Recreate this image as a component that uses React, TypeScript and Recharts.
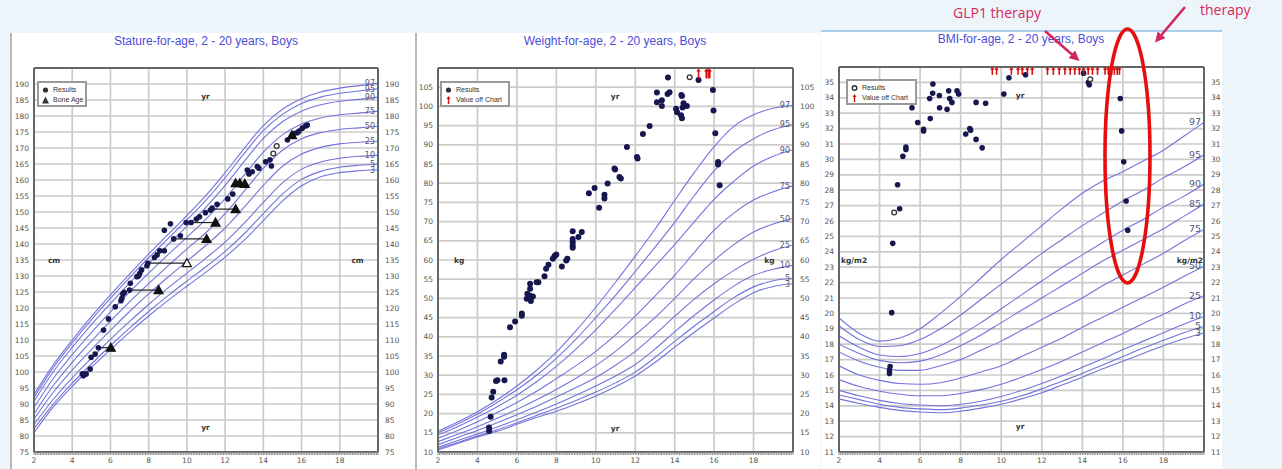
import React from "react";
import {
  CartesianGrid,
  ComposedChart,
  Line,
  ReferenceDot,
  ReferenceLine,
  Scatter,
  XAxis,
  YAxis,
} from "recharts";

type Pt = [number, number];

const FONT = "'DejaVu Sans', Verdana, sans-serif";
const TITLE_FONT = "'Liberation Sans', Arial, sans-serif";
const CURVE = "#7373dd";
const DOT = "#17174f";
const OFF = "#d40f0f";
const AXIS = "#666";

const AGES = [2, 3, 4, 5, 6, 7, 8, 9, 10, 11, 12, 13, 14, 15, 16, 17, 18, 19, 20];
const AGE_TICKS = [2, 4, 6, 8, 10, 12, 14, 16, 18];
const MONTH_TICKS = Array.from({ length: 18 * 12 + 1 }, (_, i) => 2 + i / 12);

const STATURE_TICKS = [75, 80, 85, 90, 95, 100, 105, 110, 115, 120, 125, 130, 135, 140, 145, 150, 155, 160, 165, 170, 175, 180, 185, 190];
const WEIGHT_TICKS = [10, 15, 20, 25, 30, 35, 40, 45, 50, 55, 60, 65, 70, 75, 80, 85, 90, 95, 100, 105];
const BMI_TICKS = [11, 12, 13, 14, 15, 16, 17, 18, 19, 20, 21, 22, 23, 24, 25, 26, 27, 28, 29, 30, 31, 32, 33, 34, 35];

// stature-for-age percentiles (cm), ages 2..20
const statureP3 = [81.0, 89.0, 95.5, 101.4, 107.0, 112.4, 117.5, 122.3, 126.8, 131.2, 135.9, 141.2, 147.3, 153.4, 158.2, 161.0, 162.3, 162.9, 163.2];
const statureP5 = [82.3, 89.9, 96.5, 102.5, 108.2, 113.7, 118.9, 123.8, 128.4, 132.9, 137.7, 143.2, 149.5, 155.6, 160.2, 162.7, 164.0, 164.6, 164.9];
const statureP10 = [83.6, 91.4, 98.2, 104.3, 110.2, 115.8, 121.1, 126.2, 130.9, 135.6, 140.6, 146.5, 153.0, 159.1, 163.4, 165.6, 166.8, 167.4, 167.7];
const statureP25 = [85.3, 93.6, 100.6, 107.0, 113.0, 118.9, 124.4, 129.6, 134.6, 139.6, 145.0, 151.5, 158.3, 164.3, 168.1, 170.2, 171.3, 171.8, 172.1];
const statureP50 = [86.9, 95.7, 103.0, 109.6, 115.9, 121.9, 127.6, 133.1, 138.4, 143.6, 149.5, 156.5, 163.6, 169.3, 172.9, 174.8, 175.8, 176.3, 176.8];
const statureP75 = [88.9, 97.9, 105.4, 112.3, 118.8, 125.0, 130.9, 136.6, 142.1, 147.8, 154.2, 161.5, 168.7, 174.1, 177.5, 179.4, 180.4, 180.9, 181.5];
const statureP90 = [90.8, 100.0, 107.7, 114.8, 121.4, 127.8, 133.9, 139.7, 145.5, 151.5, 158.3, 165.8, 173.0, 178.2, 181.5, 183.5, 184.6, 185.2, 185.9];
const statureP95 = [92.0, 101.3, 109.1, 116.3, 123.0, 129.5, 135.7, 141.6, 147.5, 153.7, 160.7, 168.3, 175.4, 180.5, 183.9, 185.9, 187.1, 187.8, 188.5];
const statureP97 = [93.0, 102.2, 110.0, 117.3, 124.1, 130.6, 136.9, 142.9, 148.9, 155.2, 162.3, 169.9, 177.0, 182.1, 185.4, 187.5, 188.7, 189.5, 190.2];

// weight-for-age percentiles (kg)
const weightP3 = [10.5, 12.2, 13.9, 15.4, 17.2, 19.0, 20.6, 22.5, 24.6, 27.0, 29.8, 33.3, 37.3, 41.2, 44.9, 48.5, 51.5, 53.1, 53.8];
const weightP5 = [10.8, 12.5, 14.2, 15.8, 17.6, 19.5, 21.4, 23.4, 25.6, 28.0, 30.8, 34.6, 38.8, 42.8, 46.6, 50.2, 53.0, 54.6, 55.3];
const weightP10 = [11.2, 13.0, 14.7, 16.5, 18.4, 20.4, 22.5, 24.8, 27.2, 29.8, 32.8, 36.8, 41.3, 45.6, 49.6, 53.2, 56.0, 57.6, 58.6];
const weightP25 = [11.9, 13.8, 15.6, 17.6, 19.7, 21.9, 24.3, 26.8, 29.4, 32.6, 36.2, 40.6, 45.3, 49.8, 53.8, 57.3, 60.2, 62.4, 63.9];
const weightP50 = [12.7, 14.6, 16.6, 18.8, 21.1, 23.6, 26.3, 29.2, 32.5, 36.2, 40.5, 45.0, 50.0, 55.2, 59.9, 64.0, 67.3, 69.4, 70.8];
const weightP75 = [13.6, 15.6, 17.9, 20.3, 22.9, 25.8, 29.1, 32.5, 36.2, 40.5, 45.4, 50.6, 56.0, 62.0, 67.8, 72.2, 75.6, 77.8, 79.3];
const weightP90 = [14.5, 16.6, 19.1, 21.8, 24.8, 28.3, 32.3, 36.8, 41.8, 47.2, 52.8, 58.4, 64.0, 70.0, 75.8, 80.5, 84.5, 87.0, 88.7];
const weightP95 = [15.0, 17.3, 19.9, 22.9, 26.2, 30.0, 34.4, 39.4, 45.0, 50.8, 57.0, 63.3, 69.8, 76.8, 83.2, 88.2, 91.6, 93.9, 95.3];
const weightP97 = [15.4, 17.8, 20.5, 23.6, 27.2, 31.3, 36.0, 41.6, 47.7, 54.2, 61.0, 68.0, 75.5, 82.8, 89.5, 94.8, 97.8, 99.5, 100.3];

// BMI-for-age percentiles (kg/m2)
const bmiP3 = [14.45, 14.15, 13.9, 13.7, 13.6, 13.55, 13.65, 13.85, 14.1, 14.45, 14.85, 15.35, 15.85, 16.4, 16.9, 17.4, 17.9, 18.35, 18.75];
const bmiP5 = [14.7, 14.4, 14.1, 13.9, 13.8, 13.75, 13.85, 14.05, 14.3, 14.65, 15.1, 15.6, 16.1, 16.65, 17.2, 17.75, 18.25, 18.75, 19.15];
const bmiP10 = [15.0, 14.65, 14.35, 14.15, 14.05, 14.0, 14.1, 14.3, 14.6, 15.0, 15.45, 15.95, 16.5, 17.05, 17.65, 18.2, 18.75, 19.3, 19.8];
const bmiP25 = [15.7, 15.25, 14.95, 14.75, 14.65, 14.65, 14.8, 15.05, 15.4, 15.85, 16.35, 16.9, 17.5, 18.1, 18.7, 19.35, 19.95, 20.6, 21.15];
const bmiP50 = [16.6, 16.0, 15.65, 15.45, 15.4, 15.5, 15.8, 16.2, 16.6, 17.2, 17.8, 18.4, 19.1, 19.75, 20.4, 21.05, 21.7, 22.4, 23.05];
const bmiP75 = [17.5, 16.9, 16.5, 16.3, 16.3, 16.6, 17.0, 17.6, 18.2, 18.9, 19.6, 20.3, 21.0, 21.8, 22.5, 23.2, 23.9, 24.7, 25.45];
const bmiP85 = [18.0, 17.4, 16.95, 16.8, 16.9, 17.3, 17.9, 18.6, 19.4, 20.2, 21.0, 21.8, 22.6, 23.4, 24.1, 24.8, 25.5, 26.3, 27.1];
const bmiP90 = [18.55, 17.8, 17.3, 17.2, 17.4, 17.9, 18.6, 19.4, 20.3, 21.2, 22.1, 23.0, 23.8, 24.6, 25.4, 26.1, 26.9, 27.6, 28.4];
const bmiP95 = [19.2, 18.3, 17.85, 17.9, 18.3, 19.0, 19.9, 20.9, 21.9, 22.9, 23.9, 24.8, 25.7, 26.5, 27.3, 28.0, 28.8, 29.5, 30.3];
const bmiP97 = [19.7, 18.7, 18.2, 18.4, 19.0, 20.0, 21.1, 22.3, 23.5, 24.6, 25.7, 26.8, 27.8, 28.6, 29.2, 29.9, 30.6, 31.5, 32.4];

const STATURE_CURVES: [string, number[]][] = [
  ["97", statureP97], ["95", statureP95], ["90", statureP90], ["75", statureP75], ["50", statureP50],
  ["25", statureP25], ["10", statureP10], ["5", statureP5], ["3", statureP3],
];
const WEIGHT_CURVES: [string, number[]][] = [
  ["97", weightP97], ["95", weightP95], ["90", weightP90], ["75", weightP75], ["50", weightP50],
  ["25", weightP25], ["10", weightP10], ["5", weightP5], ["3", weightP3],
];
const BMI_CURVES: [string, number[]][] = [
  ["97", bmiP97], ["95", bmiP95], ["90", bmiP90], ["85", bmiP85], ["75", bmiP75], ["50", bmiP50],
  ["25", bmiP25], ["10", bmiP10], ["5", bmiP5], ["3", bmiP3],
];

// measured results [age, value]
const statureResults: Pt[] = [
  [4.53, 99.4], [4.59, 98.8], [4.73, 99.4], [4.94, 100.9], [4.99, 104.6], [5.2, 105.6], [5.37, 107.6],
  [5.64, 113.1], [5.9, 116.6], [6.25, 120.4], [6.55, 122.3], [6.6, 123.0], [6.65, 124.4], [6.72, 124.9],
  [7.0, 125.6], [7.04, 127.7], [7.39, 129.8], [7.47, 130.0], [7.53, 130.8], [7.63, 131.9], [7.91, 133.2],
  [7.96, 134.0], [8.3, 135.8], [8.44, 136.6], [8.58, 137.9], [8.82, 137.9], [8.82, 144.3], [9.14, 146.3],
  [9.31, 141.6], [9.66, 142.6], [9.96, 146.7], [10.22, 146.7], [10.5, 147.8], [10.66, 148.5], [10.97, 149.8],
  [11.23, 150.6], [11.32, 151.2], [11.58, 152.4], [12.14, 154.1], [12.4, 155.6], [13.16, 163.1], [13.25, 161.9],
  [13.42, 162.6], [13.68, 164.2], [13.77, 163.7], [14.12, 165.7], [14.35, 166.3], [14.42, 164.4], [15.26, 172.5],
  [15.52, 174.1], [15.6, 174.5], [15.78, 174.8], [15.87, 175.3], [16.04, 176.2], [16.22, 176.9], [16.3, 177.2],
];
const statureOpen: Pt[] = [[14.52, 168.3], [14.7, 170.6]];
// bone age: [chronological age, bone age, height]
const boneAgeLinks: [number, number, number][] = [
  [5.37, 6.02, 107.6], [7.0, 8.52, 125.6], [7.96, 10.0, 134.0], [9.31, 11.03, 141.6],
  [10.22, 11.5, 146.7], [11.32, 12.55, 150.9], [12.55, 13.03, 159.0],
];
const boneAgeFilled: Pt[] = [
  [6.02, 107.6], [8.52, 125.6], [11.03, 141.6], [11.5, 146.7], [12.55, 150.9],
  [12.55, 159.0], [12.77, 159.0], [13.03, 158.8], [15.5, 174.0],
];
const boneAgeOpen: Pt[] = [[10.0, 134.0]];

const weightResults: Pt[] = [
  [4.59, 16.35], [4.59, 15.5], [4.67, 19.2], [4.72, 24.2], [4.8, 25.7], [4.94, 28.5], [5.01, 28.7], [5.37, 28.7],
  [5.18, 33.6], [5.35, 35.3], [5.35, 34.8], [5.65, 42.5], [5.91, 44.0], [6.25, 46.1], [6.25, 45.5], [6.5, 49.9],
  [6.53, 51.2], [6.67, 53.8], [6.67, 52.5], [6.67, 50.7], [6.71, 49.3], [6.81, 50.5], [7.0, 54.2], [7.09, 54.2],
  [7.4, 55.8], [7.48, 57.7], [7.6, 58.75], [7.82, 60.3], [7.9, 60.9], [7.94, 61.2], [8.0, 61.4], [8.28, 58.3],
  [8.5, 59.9], [8.56, 60.3], [8.83, 63.2], [8.83, 63.8], [8.83, 64.6], [8.83, 65.5], [8.83, 67.5], [9.12, 66.0],
  [9.29, 67.3], [9.65, 77.4], [9.94, 78.75], [10.17, 73.6], [10.44, 77.0], [10.44, 76.0], [10.6, 79.9],
  [10.95, 83.8], [10.98, 83.55], [11.2, 81.6], [11.27, 81.2], [11.58, 89.45], [12.09, 86.8], [12.12, 86.4],
  [12.39, 92.8], [12.73, 94.9], [13.1, 103.6], [13.1, 101.1], [13.35, 101.6], [13.35, 100.1], [13.64, 103.2],
  [13.66, 107.5], [13.74, 103.7], [14.07, 99.4], [14.12, 98.5], [14.32, 97.7], [14.37, 96.9], [14.34, 103.0],
  [14.37, 102.7], [14.4, 99.7], [14.45, 100.8], [14.62, 100.1], [15.21, 106.9], [15.94, 104.3], [15.97, 98.9],
  [16.06, 93.0], [16.2, 85.5], [16.2, 84.9], [16.28, 79.45],
];
const weightOpen: Pt[] = [[14.76, 107.6]];
const weightOffChart: Pt[] = [[15.21, 108.6], [15.6, 108.6], [15.7, 108.6], [15.78, 108.6]];

const bmiResults: Pt[] = [
  [4.49, 16.1], [4.49, 16.3], [4.52, 16.55], [4.6, 20.05], [4.65, 24.55], [4.99, 26.8], [4.89, 28.35],
  [5.15, 30.2], [5.3, 30.65], [5.3, 30.8], [5.6, 33.35], [5.88, 32.4], [6.17, 31.95], [6.17, 31.85],
  [6.5, 32.65], [6.47, 33.95], [6.62, 34.3], [6.63, 34.9], [6.95, 34.15], [6.96, 33.35], [7.33, 33.25],
  [7.41, 34.45], [7.46, 33.95], [7.57, 33.7], [7.82, 34.45], [7.9, 34.25], [8.25, 31.65], [8.45, 32.0],
  [8.49, 31.9], [8.76, 33.7], [8.76, 31.3], [9.06, 30.75], [9.23, 33.65], [10.13, 34.25], [10.38, 35.3],
  [11.2, 35.5], [14.06, 35.6], [14.3, 35.0], [14.34, 34.85], [15.87, 33.95], [15.94, 31.85], [16.04, 29.85],
  [16.16, 27.3], [16.24, 25.4],
];
const bmiOpen: Pt[] = [[4.72, 26.55], [14.39, 35.2]];
const bmiOffAges = [
  9.56, 9.77, 10.5, 10.83, 11.04, 11.29, 11.53, 12.28, 12.57, 12.86, 13.14, 13.4,
  13.63, 13.85, 14.06, 14.29, 14.5, 14.75, 15.12, 15.28, 15.45, 15.58, 15.72, 15.83,
];
const bmiOffChart: Pt[] = bmiOffAges.map((a) => [a, 35.75]);

const rows = (pts: Pt[]) => pts.map(([age, v]) => ({ age, v }));
const curveRows = (vals: number[]) => AGES.map((age, i) => ({ age, v: vals[i] }));

const ageLabel = (t: number) => {
  const r = Math.round(t);
  return Math.abs(t - r) < 1e-6 && r % 2 === 0 && r < 20 ? String(r) : "";
};

const dotShape = (r: number) => (p: any) => <circle cx={p.cx} cy={p.cy} r={r} fill={DOT} />;
const ringShape = (r: number) => (p: any) => (
  <circle cx={p.cx} cy={p.cy} r={r} fill="#fff" stroke="#333" strokeWidth={1.3} />
);
const triShape = (open: boolean) => (p: any) => (
  <path
    d={`M${p.cx},${p.cy - 4.5} L${p.cx + 4.5},${p.cy + 3.5} L${p.cx - 4.5},${p.cy + 3.5} Z`}
    fill={open ? "#fff" : "#111"}
    stroke="#111"
    strokeWidth={1.2}
  />
);
const arrowShape = (len: number) => (p: any) => (
  <g>
    <line x1={p.cx} y1={p.cy + len / 2} x2={p.cx} y2={p.cy - len / 2 + 2} stroke={OFF} strokeWidth={1.6} />
    <path d={`M${p.cx - 2.2},${p.cy - len / 2 + 3} L${p.cx},${p.cy - len / 2} L${p.cx + 2.2},${p.cy - len / 2 + 3} Z`} fill={OFF} />
  </g>
);
const textShape = (txt: string, anchor = "middle") => (p: any) => (
  <text x={p.cx} y={p.cy} dy={3} textAnchor={anchor} fontSize={7.5} fontWeight="bold" fill="#333" fontFamily={FONT}>
    {txt}
  </text>
);

function curveLines(curves: [string, number[]][], size: number) {
  return curves.map(([name, vals]) => (
    <Line
      key={"c" + name}
      xAxisId="b"
      yAxisId="l"
      data={curveRows(vals)}
      dataKey="v"
      type="monotone"
      stroke={CURVE}
      strokeWidth={1.1}
      dot={false}
      activeDot={false}
      isAnimationActive={false}
      label={(p: any) =>
        p.index === AGES.length - 1 ? (
          <text x={p.x - 3} y={p.y} dy={3} textAnchor="end" fontSize={size} fill="#55557a" fontFamily={FONT}>
            {name}
          </text>
        ) : (
          <g />
        )
      }
    />
  ));
}

function frame(yDomain: [number, number], yTicks: number[], leftW: number, rightW: number, topMargin: number) {
  const tick = { fontSize: 7.5, fill: "#555", fontFamily: FONT };
  return [
    <XAxis key="g" xAxisId="g" type="number" dataKey="age" domain={[2, 20]} ticks={AGE_TICKS} allowDataOverflow hide />,
    <XAxis
      key="b" xAxisId="b" type="number" dataKey="age" domain={[2, 20]} ticks={MONTH_TICKS} interval={0}
      tickFormatter={ageLabel} allowDataOverflow height={17} tick={tick} tickSize={3} tickMargin={3}
      axisLine={{ stroke: AXIS, strokeWidth: 2 }} tickLine={{ stroke: "#8a8a8a" }}
    />,
    <XAxis
      key="t" xAxisId="t" orientation="top" type="number" domain={[2, 20]} ticks={MONTH_TICKS} interval={0}
      tickFormatter={ageLabel} allowDataOverflow height={18} tick={tick} tickSize={3} tickMargin={topMargin}
      axisLine={{ stroke: AXIS, strokeWidth: 2 }} tickLine={{ stroke: "#8a8a8a" }}
    />,
    <YAxis
      key="l" yAxisId="l" type="number" domain={yDomain} ticks={yTicks} interval={0} allowDataOverflow
      width={leftW} tick={tick} tickSize={2} tickMargin={3}
      axisLine={{ stroke: AXIS, strokeWidth: 2 }} tickLine={false}
    />,
    <YAxis
      key="r" yAxisId="r" orientation="right" type="number" domain={yDomain} ticks={yTicks} interval={0} allowDataOverflow
      width={rightW} tick={{ ...tick, textAnchor: "start" }} tickSize={2} tickMargin={5}
      axisLine={{ stroke: AXIS, strokeWidth: 2 }} tickLine={false}
    />,
    <CartesianGrid key="grid" xAxisId="g" yAxisId="l" stroke="#cbcbcb" strokeWidth={1.7} />,
  ];
}

function scatter(key: string, pts: Pt[], shape: any) {
  return (
    <Scatter
      key={key}
      xAxisId="b"
      yAxisId="l"
      data={rows(pts)}
      dataKey="v"
      shape={shape}
      isAnimationActive={false}
    />
  );
}

function label(key: string, x: number, y: number, txt: string, anchor = "middle") {
  return <ReferenceDot key={key} xAxisId="b" yAxisId="l" x={x} y={y} r={0} shape={textShape(txt, anchor)} />;
}

function Title({ cx, y, text }: { cx: number; y: number; text: string }) {
  return (
    <div
      style={{
        position: "absolute", left: cx - 150, top: y - 8, width: 300, textAlign: "center", whiteSpace: "nowrap",
        fontFamily: TITLE_FONT, fontSize: 12, color: "#4c4cdc", lineHeight: "16px",
      }}
    >
      {text}
    </div>
  );
}

function LegendBox({ x, y, w, items }: { x: number; y: number; w: number; items: [string, string][] }) {
  return (
    <div
      style={{
        position: "absolute", left: x, top: y, width: w, height: 26, boxSizing: "border-box",
        border: "2px solid #9a9a9a", background: "#fff", fontFamily: TITLE_FONT, fontSize: 7, color: "#333",
        padding: "2px 0 0 3px", lineHeight: "10px", whiteSpace: "nowrap", overflow: "hidden",
      }}
    >
      {items.map(([kind, txt]) => (
        <div key={txt} style={{ display: "flex", alignItems: "center", gap: 4 }}>
          <svg width={7} height={8} style={{ flex: "none" }}>
            {kind === "dot" && <circle cx={3.5} cy={4} r={2.6} fill="#333" />}
            {kind === "ring" && <circle cx={3.5} cy={4} r={2.3} fill="#fff" stroke="#333" strokeWidth={1.4} />}
            {kind === "tri" && <path d="M3.5,0.5 L7,7.5 L0,7.5 Z" fill="#333" />}
            {kind === "arrow" && (
              <g>
                <line x1={3.5} y1={8} x2={3.5} y2={2} stroke={OFF} strokeWidth={1.4} />
                <path d="M1.5,3 L3.5,0 L5.5,3 Z" fill={OFF} />
              </g>
            )}
          </svg>
          <span>{txt}</span>
        </div>
      ))}
    </div>
  );
}

function StatureChart() {
  return (
    <div style={{ position: "absolute", left: 12, top: 33 }}>
      <ComposedChart width={396} height={436} margin={{ top: 17, right: 6, bottom: 0, left: 0 }}>
        {frame([75, 195], STATURE_TICKS, 22, 24, 7)}
        {curveLines(STATURE_CURVES, 8)}
        {boneAgeLinks.map(([a, b, v], i) => (
          <ReferenceLine
            key={"bl" + i}
            xAxisId="b"
            yAxisId="l"
            segment={[{ x: a, y: v }, { x: b, y: v }]}
            stroke="#222"
            strokeWidth={1.2}
          />
        ))}
        {scatter("res", statureResults, dotShape(2.8))}
        {scatter("open", statureOpen, ringShape(2.4))}
        {scatter("bone", boneAgeFilled, triShape(false))}
        {scatter("boneOpen", boneAgeOpen, triShape(true))}
        {label("yr1", 10.97, 186.2, "yr")}
        {label("yr2", 10.97, 82.9, "yr")}
        {label("cm1", 3.05, 135, "cm")}
        {label("cm2", 18.93, 135, "cm")}
      </ComposedChart>
    </div>
  );
}

function WeightChart() {
  return (
    <div style={{ position: "absolute", left: 416, top: 33 }}>
      <ComposedChart width={402} height={436} margin={{ top: 17, right: 0, bottom: 0, left: 0 }}>
        {frame([10, 110], WEIGHT_TICKS, 22, 25, 7)}
        {curveLines(WEIGHT_CURVES, 8)}
        {scatter("res", weightResults, dotShape(3))}
        {scatter("open", weightOpen, ringShape(2.4))}
        {scatter("off", weightOffChart, arrowShape(10))}
        {label("yr1", 10.98, 102.7, "yr")}
        {label("yr2", 10.98, 16.3, "yr")}
        {label("kg1", 3.07, 59.9, "kg")}
        {label("kg2", 18.8, 59.9, "kg")}
      </ComposedChart>
    </div>
  );
}

function BmiChart() {
  return (
    <div style={{ position: "absolute", left: 821, top: 30 }}>
      <ComposedChart width={401} height={439} margin={{ top: 19, right: 0, bottom: 0, left: 0 }}>
        {frame([11, 36], BMI_TICKS, 18, 18, 4)}
        {curveLines(BMI_CURVES, 9.5)}
        {scatter("res", bmiResults, dotShape(2.8))}
        {scatter("open", bmiOpen, ringShape(2.4))}
        {scatter("off", bmiOffChart, arrowShape(8))}
        {label("yr1", 10.93, 34.16, "yr")}
        {label("yr2", 10.93, 12.66, "yr")}
        {label("u1", 2.1, 23.5, "kg/m2", "start")}
        {label("u2", 19.95, 23.5, "kg/m2", "end")}
      </ComposedChart>
    </div>
  );
}

function Annotations() {
  return (
    <svg width={1282} height={469} style={{ position: "absolute", left: 0, top: 0, pointerEvents: "none" }}>
      <defs>
        <marker id="head" markerWidth="4" markerHeight="4" refX="2.2" refY="2" orient="auto" markerUnits="strokeWidth">
          <path d="M0,0 L4,2 L0,4 Z" fill="#d2285e" />
        </marker>
      </defs>
      <text x={953} y={18} fontSize={14} fill="#d2285e" fontFamily="'Open Sans', sans-serif">
        GLP1 therapy
      </text>
      <text x={1200} y={15} fontSize={14} fill="#d2285e" fontFamily="'Open Sans', sans-serif">
        therapy
      </text>
      <line x1={1045} y1={31} x2={1076} y2={58} stroke="#d2285e" strokeWidth={2.6} markerEnd="url(#head)" />
      <line x1={1185} y1={7} x2={1158} y2={39} stroke="#d2285e" strokeWidth={2.6} markerEnd="url(#head)" />
      <ellipse cx={1127.5} cy={156} rx={22.5} ry={127} fill="none" stroke="#e60d0d" strokeWidth={3.6} />
    </svg>
  );
}

export default function App() {
  return (
    <div style={{ position: "fixed", left: 0, top: 0, width: 1282, height: 469, background: "#eef5fa", overflow: "hidden" }}>
      <div style={{ position: "absolute", left: 10, top: 33, width: 403, height: 436, background: "#fff", borderLeft: "2px solid #b9b9b9" }} />
      <div style={{ position: "absolute", left: 415, top: 33, width: 403, height: 436, background: "#fff", borderLeft: "2px solid #b9b9b9" }} />
      <div style={{ position: "absolute", left: 821, top: 30, width: 401, height: 439, background: "#fff", borderTop: "2px solid #a9cdee" }} />

      <StatureChart />
      <WeightChart />
      <BmiChart />

      <Title cx={206} y={41} text="Stature-for-age, 2 - 20 years, Boys" />
      <Title cx={615} y={41} text="Weight-for-age, 2 - 20 years, Boys" />
      <Title cx={1021} y={39} text="BMI-for-age, 2 - 20 years, Boys" />

      <LegendBox x={37} y={81} w={50} items={[["dot", "Results"], ["tri", "Bone Age"]]} />
      <LegendBox x={440} y={81} w={70} items={[["dot", "Results"], ["arrow", "Value off Chart"]]} />
      <LegendBox x={846} y={79} w={71} items={[["ring", "Results"], ["arrow", "Value off Chart"]]} />

      <Annotations />
    </div>
  );
}
